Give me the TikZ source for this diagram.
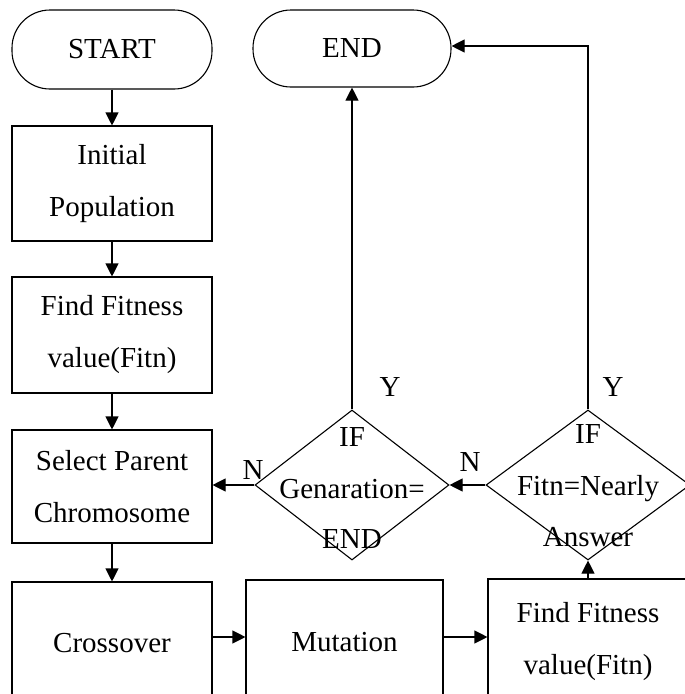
\documentclass[tikz,border=0pt]{standalone}
\usepackage{fontspec}
\setmainfont{Liberation Serif}
\usetikzlibrary{shapes.geometric,arrows.meta}
\begin{document}
\begin{tikzpicture}[x=1pt,y=-1pt,line width=1.1pt,
  txt/.style={font=\fontsize{29}{35}\selectfont, inner sep=0pt},
  box/.style={draw, rectangle, inner sep=0pt, align=center, font=\fontsize{29}{52}\selectfont},
  term/.style={draw, rectangle, rounded corners=38pt, inner sep=0pt, font=\fontsize{29}{35}\selectfont},
  dec/.style={draw, diamond, inner sep=0pt},
  arr/.style={-{Triangle[length=13pt,width=13pt]}}
]
\useasboundingbox (0,0) rectangle (685,694);
\clip (0,0) rectangle (685,694);
\node[term, minimum width=200pt, minimum height=79pt] (start) at (112,49.5) {START};
\node[term, minimum width=198pt, minimum height=77pt] (end) at (352,48.5) {END};
\node[box, minimum width=200pt, minimum height=115pt] (init) at (112,183.5) {Initial\\Population};
\node[box, minimum width=200pt, minimum height=116pt] (ff) at (112,335) {Find Fitness\\value(Fitn)};
\node[box, minimum width=200pt, minimum height=113pt] (sp) at (112,486.5) {Select Parent\\Chromosome};
\node[box, minimum width=200pt, minimum height=122pt] (cross) at (112,643) {Crossover};
\node[box, minimum width=197pt, minimum height=124pt] (mut) at (344.5,642) {Mutation};
\node[box, minimum width=200pt, minimum height=125pt] (ff2) at (588,641.5) {Find Fitness\\value(Fitn)};
\node[dec, minimum width=194pt, minimum height=150pt] (gen) at (352,485) {};
\node[dec, minimum width=204pt, minimum height=150pt] (fit) at (588,485) {};
\node[txt, anchor=base] (genif) at (352,446) {IF};
\node[txt, anchor=base] (gen2) at (352,498) {Genaration=};
\node[txt, anchor=base] (gen3) at (352,548) {END};
\node[txt, anchor=base] (fitif) at (588,443) {IF};
\node[txt, anchor=base] (fit2) at (588,495) {Fitn=Nearly};
\node[txt, anchor=base] (fit3) at (588,546) {Answer};
\node[txt] (y1) at (390,387) {Y};
\node[txt] (y2) at (613,387) {Y};
\node[txt] (n1) at (253,470) {N};
\node[txt] (n2) at (470,462) {N};
\coordinate (corner) at (588,46);
\draw[arr] (start) -- (init);
\draw[arr] (init) -- (ff);
\draw[arr] (ff) -- (sp);
\draw[arr] (sp) -- (cross);
\draw[arr] (cross.east |- 0,637) -- (mut.west |- 0,637);
\draw[arr] (mut.east |- 0,637) -- (ff2.west |- 0,637);
\draw[arr] (ff2.north) -- (fit.south);
\draw[arr] (fit.west) -- (gen.east);
\draw[arr] (gen.west) -- (sp.east |- gen.west);
\draw[arr] (gen.north) -- (end.south);
\draw[arr] (fit.north) -- (corner) -- (end.east |- corner);
\end{tikzpicture}
\end{document}
